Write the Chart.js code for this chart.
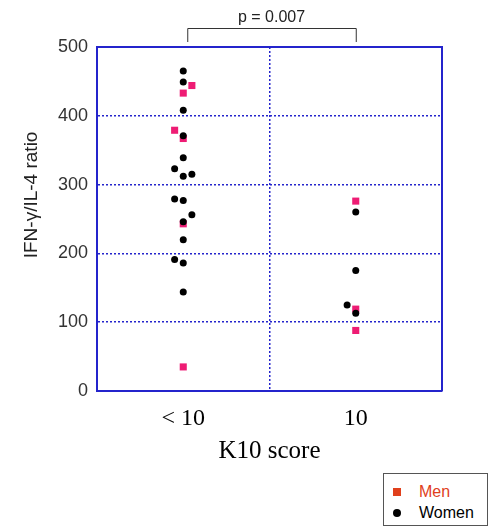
<!DOCTYPE html>
<html>
<head>
<meta charset="utf-8">
<script src="https://cdn.jsdelivr.net/npm/chart.js@4/dist/chart.umd.min.js"></script>
<style>
  html, body { margin: 0; padding: 0; background: #fff; }
  #wrap { position: relative; width: 490px; height: 530px; }
  #legend { position: absolute; left: 383px; top: 473px; width: 103px; height: 51px; border: 1px solid #555; background: #fff; font: 16px "Liberation Sans", Arial, sans-serif; }
  #legend .row { position: absolute; left: 0; height: 20px; line-height: 20px; }
  #legend .row span { position: absolute; left: 35px; white-space: nowrap; }
  #legend i { position: absolute; display: block; }
</style>
</head>
<body>
<div id="wrap">
  <canvas id="chart" width="490" height="530"></canvas>
  <div id="legend"></div>
</div>
<script>
  // categories on the x axis (positions 0 and 1), small jitter inside each group
  const categories = ['< 10', '10'];
  const yTicks = [0, 100, 200, 300, 400, 500];
  const yTitle = 'IFN-γ/IL-4 ratio';
  const pText = 'p = 0.007';

  const womenX = [0, 0, 0, 0, 0, -0.05, 0, 0.05, -0.05, 0, 0.05, 0, 0, -0.05, 0, 0, 1, 1, 0.95, 1];
  const womenY = [465, 449, 408, 371, 339, 323, 312, 315, 279, 277, 256, 246, 220, 191, 186, 144, 260, 175, 125, 113];
  const menX = [0.05, 0, -0.05, 0, 0, 0, 1, 1, 1];
  const menY = [444, 433, 379, 367, 243, 35, 276, 119, 88];

  const BLUE = '#2424cc';
  const PINK = '#ee1c74';
  const MEN_LEGEND = '#e0401c';

  const pts = (xs, ys) => xs.map((x, i) => ({ x, y: ys[i] }));

  const frame = {
    id: 'frame',
    afterDraw(chart) {
      const { ctx, chartArea: a, scales: { x } } = chart;
      ctx.save();
      ctx.strokeStyle = BLUE;
      ctx.lineWidth = 2;
      ctx.beginPath();
      ctx.moveTo(a.left, a.top); ctx.lineTo(a.right, a.top); ctx.lineTo(a.right, a.bottom);
      ctx.stroke();
      // significance bracket between the two groups
      const x0 = x.getPixelForValue(0) + 4, x1 = x.getPixelForValue(1);
      ctx.strokeStyle = '#333';
      ctx.lineWidth = 1;
      ctx.beginPath();
      ctx.moveTo(x0 + 0.5, a.top - 5); ctx.lineTo(x0 + 0.5, a.top - 18.5);
      ctx.lineTo(x1 + 0.5, a.top - 18.5); ctx.lineTo(x1 + 0.5, a.top - 5);
      ctx.stroke();
      ctx.fillStyle = '#222';
      ctx.font = '16px "Liberation Sans", Arial, sans-serif';
      ctx.textAlign = 'center';
      ctx.textBaseline = 'alphabetic';
      ctx.fillText(pText, (x0 + x1) / 2, a.top - 25);
      // y axis title, sits a little above the middle of the axis in the original
      ctx.translate(32, a.top + (a.bottom - a.top) * 0.43);
      ctx.rotate(-Math.PI / 2);
      ctx.font = '19px "Liberation Sans", Arial, sans-serif';
      ctx.textBaseline = 'middle';
      ctx.fillText(yTitle, 0, 0);
      ctx.restore();
    }
  };

  new Chart(document.getElementById('chart'), {
    type: 'scatter',
    data: {
      datasets: [
        { label: 'Women', data: pts(womenX, womenY), pointStyle: 'circle', pointRadius: 3.5, pointHoverRadius: 3.5, backgroundColor: '#000', borderWidth: 0 },
        { label: 'Men', data: pts(menX, menY), pointStyle: 'rect', pointRadius: 5, pointHoverRadius: 5, backgroundColor: PINK, borderWidth: 0 },
      ],
    },
    options: {
      responsive: false,
      animation: false,
      events: [],
      layout: { padding: { top: 47, right: 48, left: 0, bottom: 0 } },
      plugins: { legend: { display: false }, tooltip: { enabled: false } },
      scales: {
        x: {
          type: 'linear', min: -0.5, max: 1.5,
          afterBuildTicks: (s) => { s.ticks = [{ value: 0 }, { value: 0.5 }, { value: 1 }]; },
          afterFit: (s) => { s.height = 139; },
          ticks: {
            padding: 13, color: '#000', maxRotation: 0, autoSkip: false,
            font: { family: '"Liberation Serif", "Times New Roman", serif', size: 24 },
            callback: (v) => (Number.isInteger(v) ? categories[v] : ''),
          },
          grid: { drawTicks: false, lineWidth: 1.5, color: (c) => (c.tick && c.tick.value === 0.5 ? BLUE : 'rgba(0,0,0,0)') },
          border: { display: true, color: BLUE, width: 2, dash: [2, 2] },
          title: { display: true, text: 'K10 score', color: '#000', font: { family: '"Liberation Serif", "Times New Roman", serif', size: 25 }, padding: { top: 0, bottom: 64 } },
        },
        y: {
          min: 0, max: 500,
          afterBuildTicks: (s) => { s.ticks = yTicks.map((v) => ({ value: v })); },
          afterFit: (s) => { s.width = 97; },
          ticks: { padding: 9, color: '#333', font: { family: '"Liberation Sans", Arial, sans-serif', size: 18 } },
          grid: { drawTicks: false, lineWidth: 1.5, color: BLUE },
          border: { display: true, color: BLUE, width: 2, dash: [2, 2] },
        },
      },
    },
    plugins: [frame],
  });

  document.getElementById('legend').innerHTML =
    `<div class="row" style="top:8px"><i style="left:9px;top:6px;width:8px;height:8px;background:${MEN_LEGEND}"></i><span style="color:${MEN_LEGEND}">Men</span></div>` +
    `<div class="row" style="top:29px"><i style="left:9px;top:6px;width:8px;height:8px;border-radius:50%;background:#000"></i><span style="color:#000">Women</span></div>`;
</script>
</body>
</html>
